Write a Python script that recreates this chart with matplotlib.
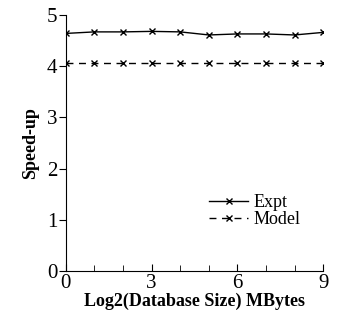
import matplotlib
matplotlib.use('Agg')
import matplotlib.pyplot as plt

plt.rcParams['font.family'] = ['Liberation Serif', 'DejaVu Serif']

x = [0, 1, 2, 3, 4, 5, 6, 7, 8, 9]
expt = [4.64, 4.67, 4.67, 4.68, 4.67, 4.61, 4.63, 4.63, 4.61, 4.66]
model = [4.07, 4.07, 4.07, 4.07, 4.07, 4.07, 4.07, 4.07, 4.07, 4.07]

fig = plt.figure(figsize=(3.38, 3.33), dpi=100)
ax = fig.add_axes([0.195, 0.186, 0.761, 0.769])

ax.plot(x, expt, color='black', lw=1.0, marker='x', ms=5, mew=1.0, label='Expt')
ax.plot(x, model, color='black', lw=1.0, ls=(0, (5, 4)), marker='x', ms=5, mew=1.0, label='Model')

ax.set_xlim(0, 9)
ax.set_ylim(0, 5)
ax.set_xticks([0, 3, 6, 9])
ax.set_xticks(x, minor=True)
ax.set_yticks([0, 1, 2, 3, 4, 5])
ax.tick_params(axis='x', direction='in', labelsize=15, length=5, pad=2)
ax.tick_params(axis='x', which='minor', direction='in', length=4)
ax.tick_params(axis='y', direction='out', labelsize=15, length=5, pad=1)

for s in ['top', 'right']:
    ax.spines[s].set_visible(False)

ax.set_xlabel('Log2(Database Size) MBytes', fontsize=13, fontweight='bold', labelpad=0)
ax.set_ylabel('Speed-up', fontsize=13, fontweight='bold', labelpad=6)

ax.legend(loc='center left', bbox_to_anchor=(0.52, 0.235), frameon=False, fontsize=13,
          handlelength=2.2, handletextpad=0.3, labelspacing=0.0, borderpad=0)

fig.savefig('out.png', dpi=100)
